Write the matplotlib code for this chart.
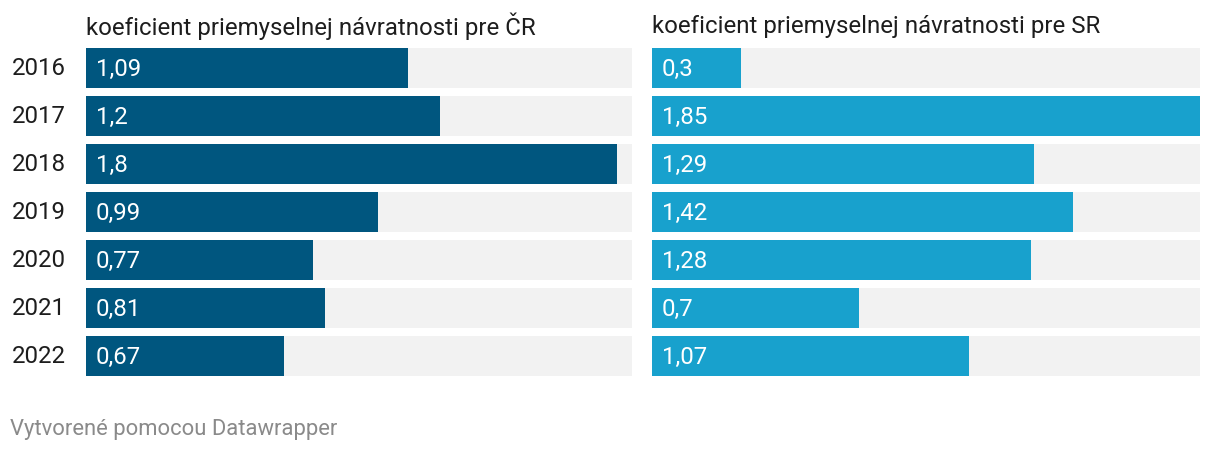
import matplotlib.pyplot as plt

plt.rcParams['font.family'] = ['Roboto', 'DejaVu Sans']

years = ['2016', '2017', '2018', '2019', '2020', '2021', '2022']
cz_values = [1.09, 1.2, 1.8, 0.99, 0.77, 0.81, 0.67]
sk_values = [0.3, 1.85, 1.29, 1.42, 1.28, 0.7, 1.07]
titles = ['koeficient priemyselnej návratnosti pre ČR',
          'koeficient priemyselnej návratnosti pre SR']
colors = ['#00567f', '#18a1cd']
x_max = 1.85

W, H = 1220, 452
fig = plt.figure(figsize=(W / 100, H / 100), dpi=100)

def fx(px):
    return px / W

def fy(py):
    return 1 - py / H

top, bottom = 45, 381
panels = [(86, 632), (652, 1200)]
fs = 17.25

for k, (vals, title, col) in enumerate(zip([cz_values, sk_values], titles, colors)):
    x0, x1 = panels[k]
    ax = fig.add_axes([fx(x0), fy(bottom), fx(x1 - x0), fy(top) - fy(bottom)])
    ypos = list(range(len(years)))
    # grey track behind each bar
    ax.barh(ypos, [x_max] * len(years), height=40 / 48, color='#f2f2f2', linewidth=0)
    ax.barh(ypos, vals, height=40 / 48, color=col, linewidth=0)
    per_px = x_max / (x1 - x0)
    for i, v in enumerate(vals):
        label = f'{v:g}'.replace('.', ',')
        ax.text(10 * per_px, i, label, color='white',
                fontsize=fs, va='center', ha='left')
    ax.set_xlim(0, x_max)
    ax.set_ylim(len(years) - 0.5, -0.5)
    ax.axis('off')
    fig.text(fx(x0), fy(26), title, fontsize=fs, color='#1d1d1d',
             ha='left', va='center')
    if k == 0:
        for i, y in enumerate(years):
            ax.text(-20 * per_px, i, y, fontsize=fs,
                    color='#1d1d1d', ha='right', va='center')

fig.text(fx(10), fy(430), 'Vytvorené pomocou Datawrapper', fontsize=15.85,
         color='#8a8a8a', ha='left', va='center')

fig.savefig('out.png', dpi=100)
